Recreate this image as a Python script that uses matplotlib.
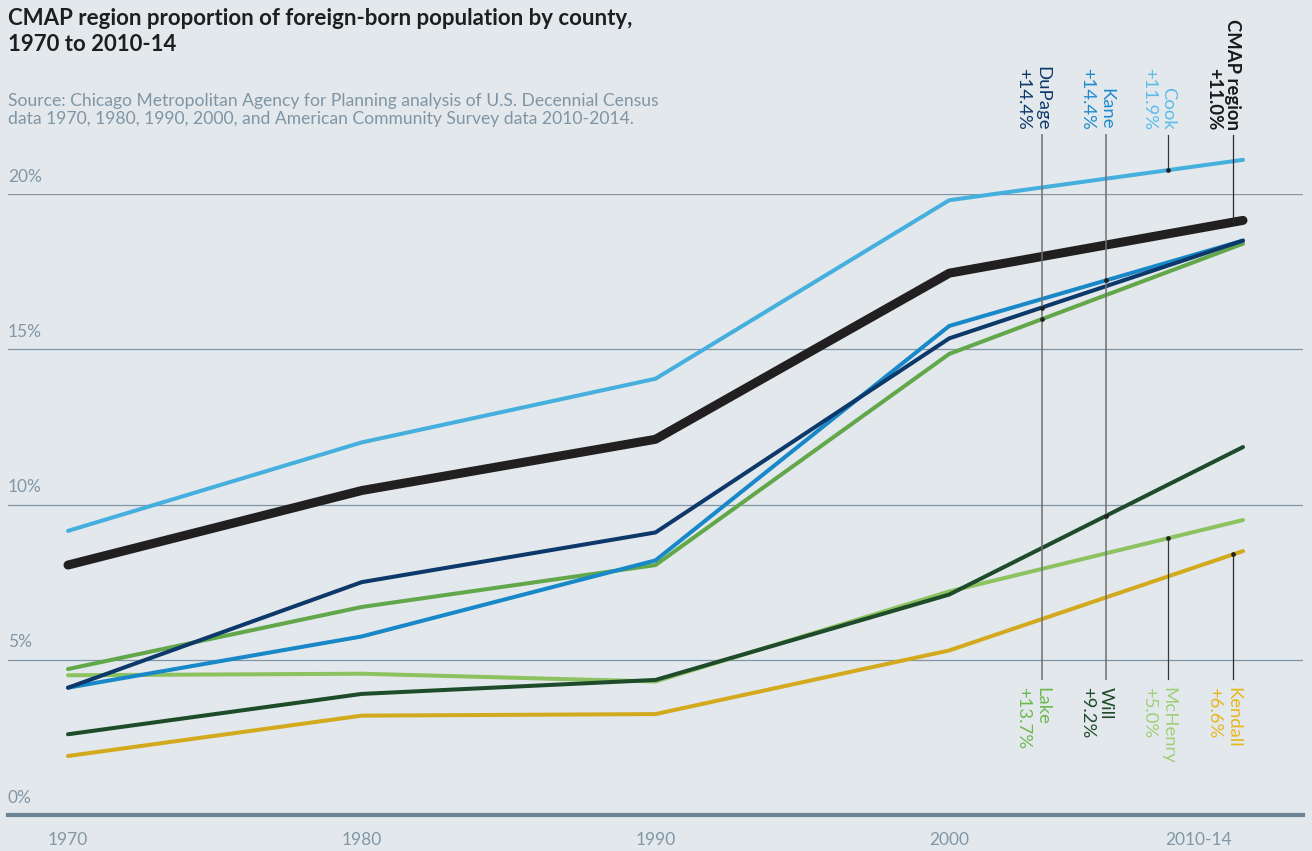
import numpy as np
import matplotlib
matplotlib.use("Agg")
import matplotlib.pyplot as plt
from matplotlib import font_manager as fm

# ---------------- data ----------------
periods = ["1970", "1980", "1990", "2000", "2010-14"]
cook    = [9.15, 12.0, 14.05, 19.8, 21.1]
cmap    = [8.05, 10.45, 12.1, 17.45, 19.15]
dupage  = [4.1, 7.5, 9.1, 15.35, 18.5]
kane    = [4.1, 5.75, 8.2, 15.75, 18.5]
lake    = [4.7, 6.7, 8.05, 14.85, 18.4]
mchenry = [4.5, 4.55, 4.3, 7.2, 9.5]
will    = [2.6, 3.9, 4.35, 7.1, 11.85]
kendall = [1.9, 3.2, 3.25, 5.3, 8.5]

top_names   = ["DuPage", "Kane", "Cook", "CMAP region"]
top_changes = ["+14.4%", "+14.4%", "+11.9%", "+11.0%"]
bot_names   = ["Lake", "Will", "McHenry", "Kendall"]
bot_changes = ["+13.7%", "+9.2%", "+5.0%", "+6.6%"]
y_ticks = [0, 5, 10, 15, 20]
y_tick_labels = ["0%", "5%", "10%", "15%", "20%"]

# ---------------- style ----------------
avail = {f.name for f in fm.fontManager.ttflist}
FONT = "Lato" if "Lato" in avail else "DejaVu Sans"
plt.rcParams["font.family"] = [FONT, "DejaVu Sans"]

BG = "#e3e8ec"
GRID = "#7f95a5"
TICK = "#8197a7"

C_COOK, C_CMAP, C_DUP, C_KANE = "#45afdd", "#221f20", "#0c386a", "#1888c8"
C_LAKE, C_MCH, C_WILL, C_KEN = "#62a74a", "#8cc25f", "#1e4b2a", "#d3a91e"

W, H, DPI = 1312, 851, 100
fig = plt.figure(figsize=(W / DPI, H / DPI), dpi=DPI, facecolor=BG)

# axes: px 8..1303 horizontally, 0% at y=815px, 20% at y=194px
ax = fig.add_axes([8 / W, (H - 815) / H, 1295 / W, 621 / H])
ax.set_facecolor("none")
ax.set_xlim(-60 / 293.75, 4 + 60 / 293.75)
ax.set_ylim(0, 20)
for s in ax.spines.values():
    s.set_visible(False)
ax.set_xticks([])
ax.set_yticks([])

x = np.arange(len(periods))

# grid lines
for v in y_ticks[1:]:
    ax.axhline(v, color=GRID, lw=0.9, zorder=1)
ax.axhline(0, color="#6a8493", lw=3.0, zorder=1, clip_on=False)

# y tick labels
for v, lab in zip(y_ticks, y_tick_labels):
    ax.text(ax.get_xlim()[0], v + 0.3, lab, color=TICK, fontsize=12.5,
            ha="left", va="bottom")

# x tick labels
for i, lab in enumerate(periods):
    if i == len(periods) - 1:
        ax.text(i - 11 / 293.75, -0.8, lab, color=TICK, fontsize=12.5,
                ha="right", va="center")
    else:
        ax.text(i, -0.8, lab, color=TICK, fontsize=12.5,
                ha="center", va="center")

series = [
    (kendall, C_KEN, 2.9),
    (mchenry, C_MCH, 2.9),
    (will, C_WILL, 2.9),
    (lake, C_LAKE, 2.9),
    (kane, C_KANE, 2.9),
    (dupage, C_DUP, 2.9),
    (cook, C_COOK, 2.9),
    (cmap, C_CMAP, 6.5),
]
for z, (vals, col, lw) in enumerate(series):
    ax.plot(x, vals, color=col, lw=lw, solid_capstyle="round",
            solid_joinstyle="round", zorder=3 + z, clip_on=False)

# leader lines and labels
lead_x = [(px - 68) / 293.75 for px in (1042, 1106, 1168, 1233)]
top_series = [dupage, kane, cook, cmap]
bot_series = [lake, will, mchenry, kendall]
top_cols = [C_DUP, "#1b8bcc", "#5bbde9", "#1a1a1a"]
bot_cols = ["#6db94f", "#1e4b2a", "#9fd078", "#e8b71c"]
lead_cols = ["#6f6f6f", "#6f6f6f", "#3a3a3a", "#2a2a2a"]
lead_lw = [1.3, 1.3, 0.9, 0.9]

px2y = 20 / 621.0
y_line_top = (815 - 135) * px2y
y_line_bot = (815 - 679) * px2y
y_text_top = (815 - 130) * px2y
y_text_bot = (815 - 687) * px2y
dx_line2 = 19 / 293.75

for i, lx in enumerate(lead_x):
    yt = np.interp(lx, x, top_series[i])
    yb = np.interp(lx, x, bot_series[i])
    if i < 2:
        ax.plot([lx, lx], [y_line_bot, y_line_top], color=lead_cols[i],
                lw=lead_lw[i], alpha=0.85, zorder=20, clip_on=False)
    else:
        ax.plot([lx, lx], [yt, y_line_top], color=lead_cols[i],
                lw=lead_lw[i], zorder=20, clip_on=False)
        ax.plot([lx, lx], [y_line_bot, yb], color=lead_cols[i],
                lw=lead_lw[i], zorder=20, clip_on=False)
    if i != 3:
        ax.plot([lx], [yt], "o", ms=2.4, color="#222222", zorder=21, clip_on=False)
    ax.plot([lx], [yb], "o", ms=2.4, color="#222222", zorder=21, clip_on=False)

    bold = "bold" if i == 3 else "normal"
    ax.text(lx, y_text_top, top_names[i], rotation=270, rotation_mode="anchor",
            ha="right", va="center", fontsize=13.3, color=top_cols[i],
            fontweight=bold, clip_on=False)
    ax.text(lx - dx_line2, y_text_top, top_changes[i], rotation=270,
            rotation_mode="anchor", ha="right", va="center", fontsize=13.3,
            color=top_cols[i], fontweight=bold, clip_on=False)
    ax.text(lx, y_text_bot, bot_names[i], rotation=270, rotation_mode="anchor",
            ha="left", va="center", fontsize=13.3, color=bot_cols[i], clip_on=False)
    ax.text(lx - dx_line2, y_text_bot, bot_changes[i], rotation=270,
            rotation_mode="anchor", ha="left", va="center", fontsize=13.3,
            color=bot_cols[i], clip_on=False)

# title and source
fig.text(8 / W, 1 - 8 / H,
         "CMAP region proportion of foreign-born population by county,\n1970 to 2010-14",
         ha="left", va="top", fontsize=16, fontweight="bold", color="#1e1e1e",
         linespacing=1.32)
fig.text(8 / W, 1 - 93 / H,
         "Source: Chicago Metropolitan Agency for Planning analysis of U.S. Decennial Census\n"
         "data 1970, 1980, 1990, 2000, and American Community Survey data 2010-2014.",
         ha="left", va="top", fontsize=12.6, color="#7f95a5",
         linespacing=1.18)

fig.savefig("out.png", dpi=DPI, facecolor=BG)
